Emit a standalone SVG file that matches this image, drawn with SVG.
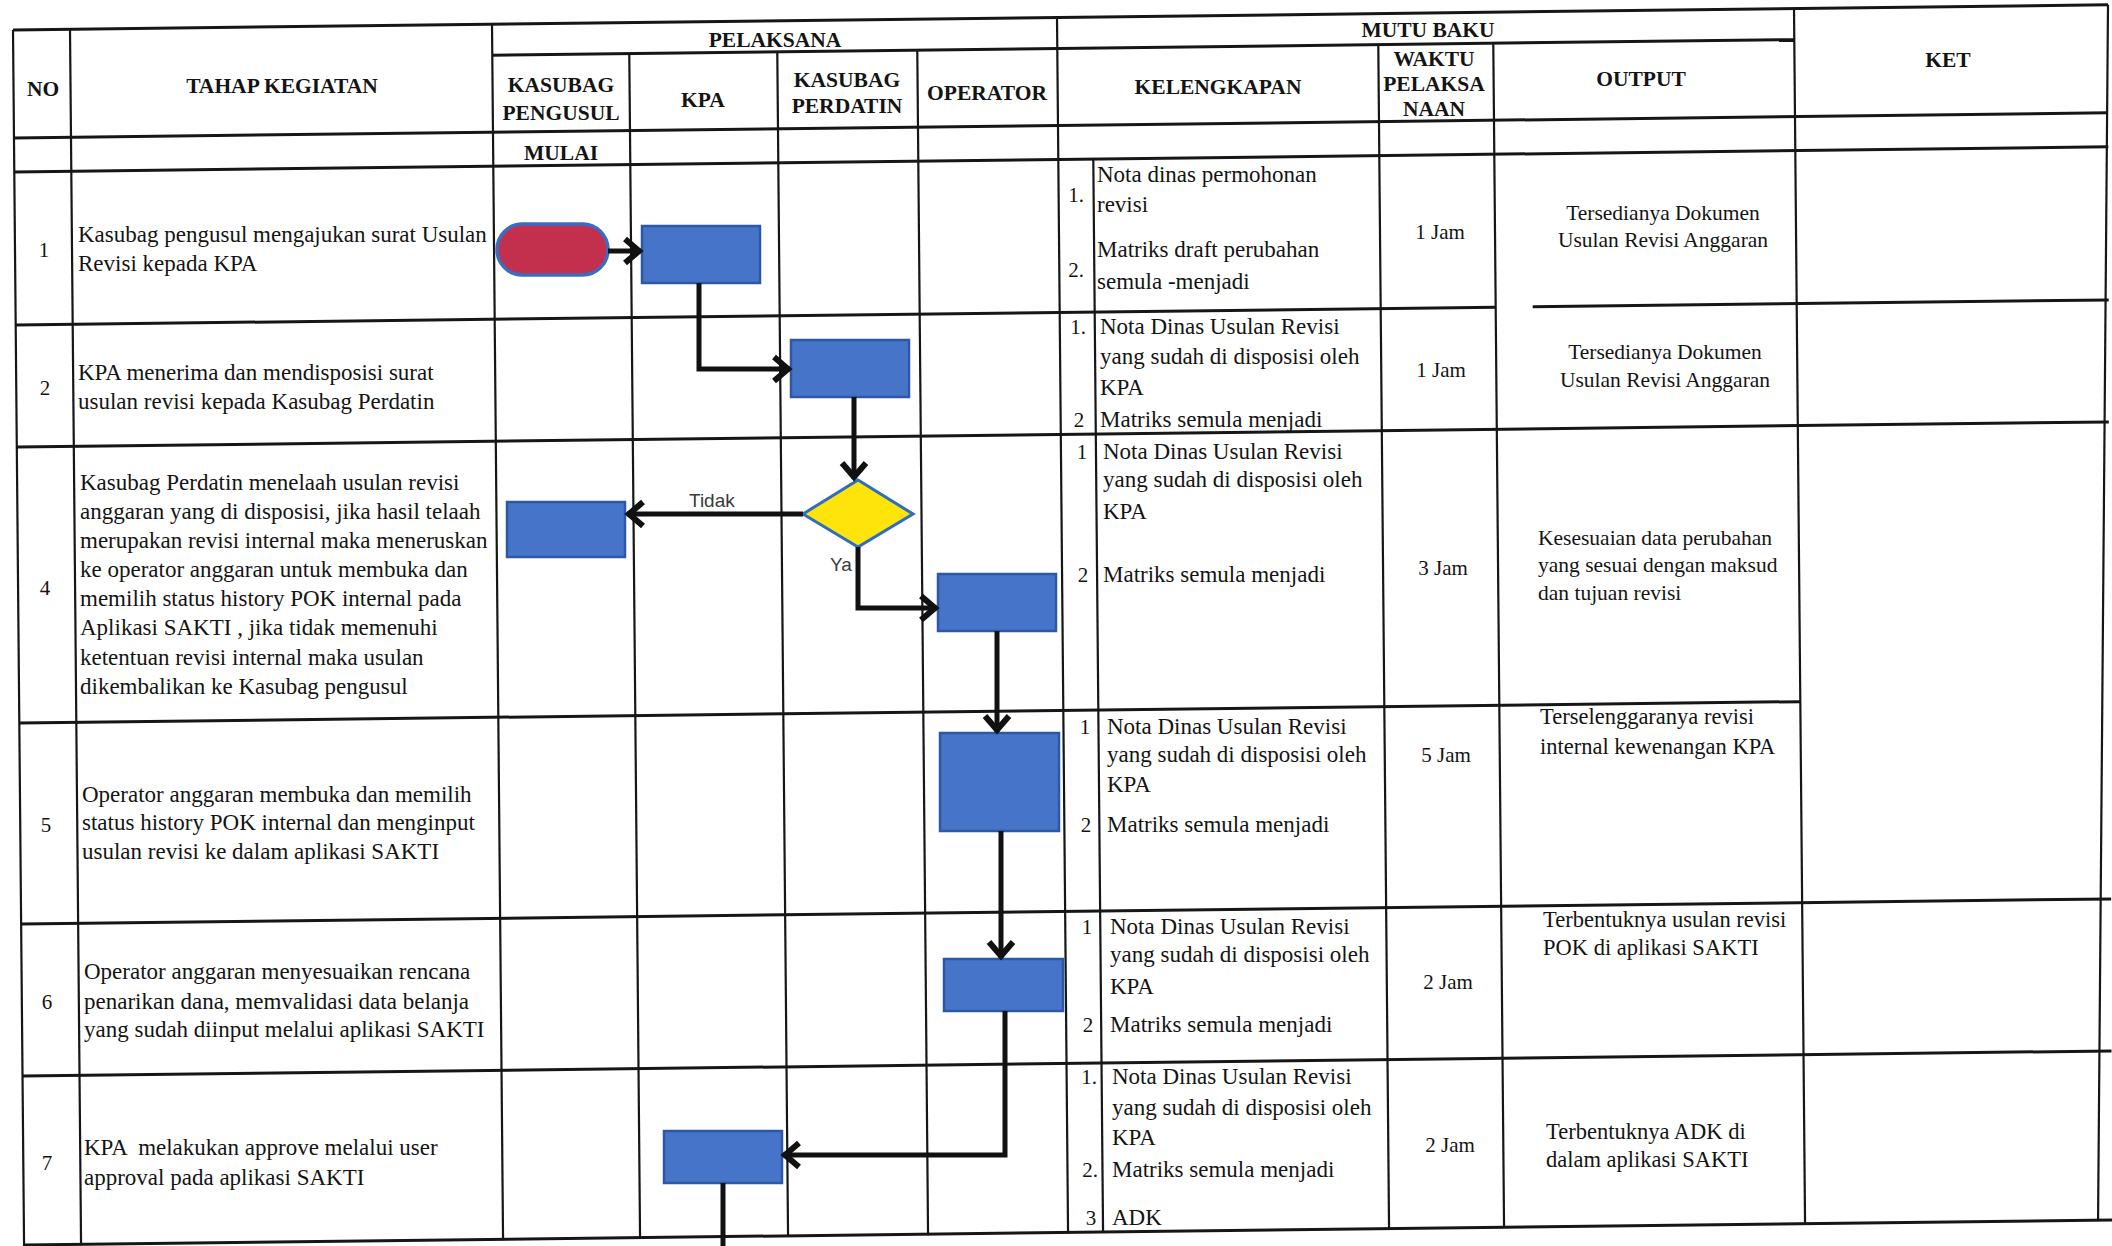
<svg xmlns="http://www.w3.org/2000/svg" width="2112" height="1246" viewBox="0 0 2112 1246">
<defs>
<style>
.hl{stroke:#161616;stroke-width:3;fill:none}
.vl{stroke:#161616;stroke-width:2.2;fill:none}
.h{font-family:"Liberation Serif","Times New Roman",serif;font-weight:bold;font-size:21.5px;text-anchor:middle;fill:#141414}
.t{font-family:"Liberation Serif","Times New Roman",serif;font-size:23px;fill:#141414}
.o{font-family:"Liberation Serif","Times New Roman",serif;font-size:21.5px;fill:#141414}
.o2{font-family:"Liberation Serif","Times New Roman",serif;font-size:22.5px;fill:#141414}
.c{text-anchor:middle}
.n{font-family:"Liberation Serif","Times New Roman",serif;font-size:21px;fill:#141414;text-anchor:middle}
.box{fill:#4574c8;stroke:#2c58a6;stroke-width:2.5}
.term{fill:#c3304d;stroke:#3c6cc2;stroke-width:3.5}
.dec{fill:#ffe40c;stroke:#2f6cc2;stroke-width:3}
.cn{stroke:#111;stroke-width:5;fill:none}
.lbl{font-family:"Liberation Sans",Arial,sans-serif;font-size:19px;fill:#3a3a3a}
</style>
<marker id="ah" markerUnits="userSpaceOnUse" viewBox="0 0 32 32" markerWidth="32" markerHeight="32" refX="28" refY="16" orient="auto">
<path d="M12,4 L26,16 L12,28" fill="none" stroke="#111" stroke-width="6"/>
</marker>
</defs>
<rect x="0" y="0" width="2112" height="1246" fill="#ffffff"/>

<g id="table" transform="matrix(1 -0.012 0.0091 1 -0.273 0.156)">
<line class="vl" x1="13" y1="30" x2="13" y2="1246"/>
<line class="vl" x1="70" y1="30" x2="70" y2="1246"/>
<line class="vl" x1="492" y1="30" x2="492" y2="1246"/>
<line class="vl" x1="629" y1="61" x2="629" y2="1246"/>
<line class="vl" x1="777" y1="61" x2="777" y2="1246"/>
<line class="vl" x1="917" y1="61" x2="917" y2="1246"/>
<line class="vl" x1="1057" y1="30" x2="1057" y2="1246"/>
<line class="vl" x1="1092" y1="172" x2="1092" y2="1245"/>
<line class="vl" x1="1378" y1="61" x2="1378" y2="1245"/>
<line class="vl" x1="1493" y1="61" x2="1493" y2="1245"/>
<line class="vl" x1="1794" y1="30" x2="1794" y2="1245"/>
<line class="vl" x1="2108" y1="30" x2="2087" y2="1245"/>
<line class="hl" x1="13" y1="30" x2="2108" y2="30"/>
<line class="hl" x1="492" y1="61" x2="1794" y2="61"/>
<line class="hl" x1="13" y1="138" x2="2107" y2="138"/>
<line class="hl" x1="13" y1="172" x2="2107" y2="172"/>
<line class="hl" x1="13" y1="325" x2="1493" y2="325"/>
<line class="hl" x1="1530" y1="325" x2="2106" y2="325"/>
<line class="hl" x1="13" y1="447" x2="2105" y2="447"/>
<line class="hl" x1="13" y1="723" x2="1794" y2="723"/>
<line class="hl" x1="13" y1="924" x2="2103" y2="924"/>
<line class="hl" x1="13" y1="1076" x2="2102" y2="1076"/>
<line class="hl" x1="13" y1="1245" x2="2101" y2="1245"/>
</g>

<g id="header">
<text class="h" x="43" y="96">NO</text>
<text class="h" x="282" y="93">TAHAP KEGIATAN</text>
<text class="h" x="775" y="47">PELAKSANA</text>
<text class="h" x="561" y="92">KASUBAG</text>
<text class="h" x="561" y="120">PENGUSUL</text>
<text class="h" x="703" y="107">KPA</text>
<text class="h" x="847" y="87">KASUBAG</text>
<text class="h" x="847" y="113">PERDATIN</text>
<text class="h" x="987" y="100">OPERATOR</text>
<text class="h" x="1428" y="37">MUTU BAKU</text>
<text class="h" x="1218" y="94">KELENGKAPAN</text>
<text class="h" x="1434" y="66">WAKTU</text>
<text class="h" x="1434" y="91">PELAKSA</text>
<text class="h" x="1434" y="116">NAAN</text>
<text class="h" x="1641" y="86">OUTPUT</text>
<text class="h" x="1948" y="67">KET</text>
<text class="h" x="561" y="160">MULAI</text>
</g>

<g id="tahap">
<text class="n" x="44" y="257">1</text>
<text class="t" x="78" y="242">Kasubag pengusul mengajukan surat Usulan</text>
<text class="t" x="78" y="271">Revisi kepada KPA</text>
<text class="n" x="45" y="395">2</text>
<text class="t" x="78" y="380">KPA menerima dan mendisposisi surat</text>
<text class="t" x="78" y="409">usulan revisi kepada Kasubag Perdatin</text>
<text class="n" x="45" y="595">4</text>
<text class="t" x="80" y="490">Kasubag Perdatin menelaah usulan revisi</text>
<text class="t" x="80" y="519">anggaran yang di disposisi, jika hasil telaah</text>
<text class="t" x="80" y="548">merupakan revisi internal maka meneruskan</text>
<text class="t" x="80" y="577">ke operator anggaran untuk membuka dan</text>
<text class="t" x="80" y="606">memilih status history POK internal pada</text>
<text class="t" x="80" y="635">Aplikasi SAKTI , jika tidak memenuhi</text>
<text class="t" x="80" y="665">ketentuan revisi internal maka usulan</text>
<text class="t" x="80" y="694">dikembalikan ke Kasubag pengusul</text>
<text class="n" x="46" y="832">5</text>
<text class="t" x="82" y="802">Operator anggaran membuka dan memilih</text>
<text class="t" x="82" y="830">status history POK internal dan menginput</text>
<text class="t" x="82" y="859">usulan revisi ke dalam aplikasi SAKTI</text>
<text class="n" x="47" y="1009">6</text>
<text class="t" x="84" y="979">Operator anggaran menyesuaikan rencana</text>
<text class="t" x="84" y="1009">penarikan dana, memvalidasi data belanja</text>
<text class="t" x="84" y="1037">yang sudah diinput melalui aplikasi SAKTI</text>
<text class="n" x="47" y="1170">7</text>
<text class="t" x="84" y="1155" xml:space="preserve">KPA  melakukan approve melalui user</text>
<text class="t" x="84" y="1185">approval pada aplikasi SAKTI</text>
</g>

<g id="kelengkapan">
<text class="n" x="1076" y="202">1.</text>
<text class="t" x="1097" y="182">Nota dinas permohonan</text>
<text class="t" x="1097" y="212">revisi</text>
<text class="t" x="1097" y="257">Matriks draft perubahan</text>
<text class="n" x="1076" y="277">2.</text>
<text class="t" x="1097" y="289">semula -menjadi</text>
<text class="n" x="1078" y="334">1.</text>
<text class="t" x="1100" y="334">Nota Dinas Usulan Revisi</text>
<text class="t" x="1100" y="364">yang sudah di disposisi oleh</text>
<text class="t" x="1100" y="395">KPA</text>
<text class="n" x="1079" y="427">2</text>
<text class="t" x="1100" y="427">Matriks semula menjadi</text>
<text class="n" x="1082" y="459">1</text>
<text class="t" x="1103" y="459">Nota Dinas Usulan Revisi</text>
<text class="t" x="1103" y="487">yang sudah di disposisi oleh</text>
<text class="t" x="1103" y="519">KPA</text>
<text class="n" x="1083" y="582">2</text>
<text class="t" x="1103" y="582">Matriks semula menjadi</text>
<text class="n" x="1085" y="734">1</text>
<text class="t" x="1107" y="734">Nota Dinas Usulan Revisi</text>
<text class="t" x="1107" y="762">yang sudah di disposisi oleh</text>
<text class="t" x="1107" y="792">KPA</text>
<text class="n" x="1086" y="832">2</text>
<text class="t" x="1107" y="832">Matriks semula menjadi</text>
<text class="n" x="1087" y="934">1</text>
<text class="t" x="1110" y="934">Nota Dinas Usulan Revisi</text>
<text class="t" x="1110" y="962">yang sudah di disposisi oleh</text>
<text class="t" x="1110" y="994">KPA</text>
<text class="n" x="1088" y="1032">2</text>
<text class="t" x="1110" y="1032">Matriks semula menjadi</text>
<text class="n" x="1089" y="1084">1.</text>
<text class="t" x="1112" y="1084">Nota Dinas Usulan Revisi</text>
<text class="t" x="1112" y="1115">yang sudah di disposisi oleh</text>
<text class="t" x="1112" y="1145">KPA</text>
<text class="n" x="1090" y="1177">2.</text>
<text class="t" x="1112" y="1177">Matriks semula menjadi</text>
<text class="n" x="1091" y="1225">3</text>
<text class="t" x="1112" y="1225">ADK</text>
</g>

<g id="waktu">
<text class="n" x="1440" y="239">1 Jam</text>
<text class="n" x="1441" y="377">1 Jam</text>
<text class="n" x="1443" y="575">3 Jam</text>
<text class="n" x="1446" y="762">5 Jam</text>
<text class="n" x="1448" y="989">2 Jam</text>
<text class="n" x="1450" y="1152">2 Jam</text>
</g>

<g id="output">
<text class="o c" x="1663" y="220">Tersedianya Dokumen</text>
<text class="o c" x="1663" y="247">Usulan Revisi Anggaran</text>
<text class="o c" x="1665" y="359">Tersedianya Dokumen</text>
<text class="o c" x="1665" y="387">Usulan Revisi Anggaran</text>
<text class="o" x="1538" y="545">Kesesuaian data perubahan</text>
<text class="o" x="1538" y="572">yang sesuai dengan maksud</text>
<text class="o" x="1538" y="600">dan tujuan revisi</text>
<text class="o2" x="1540" y="724">Terselenggaranya revisi</text>
<text class="o2" x="1540" y="754">internal kewenangan KPA</text>
<text class="o2" x="1543" y="927">Terbentuknya usulan revisi</text>
<text class="o2" x="1543" y="955">POK di aplikasi SAKTI</text>
<text class="o2" x="1546" y="1139">Terbentuknya ADK di</text>
<text class="o2" x="1546" y="1167">dalam aplikasi SAKTI</text>
</g>

<g id="node-mulai"><rect class="term" x="497" y="224" width="111" height="51" rx="25.5"/></g>
<g id="node-kpa-1"><rect class="box" x="642" y="226" width="118" height="57"/></g>
<g id="node-perdatin-2"><rect class="box" x="791" y="340" width="118" height="57"/></g>
<g id="node-decision"><polygon class="dec" points="803,514 858,480 913,514 858,547"/></g>
<g id="node-pengusul-4"><rect class="box" x="507" y="502" width="118" height="55"/></g>
<g id="node-operator-4"><rect class="box" x="938" y="574" width="118" height="57"/></g>
<g id="node-operator-5"><rect class="box" x="940" y="733" width="119" height="98"/></g>
<g id="node-operator-6"><rect class="box" x="944" y="959" width="119" height="52"/></g>
<g id="node-kpa-7"><rect class="box" x="664" y="1131" width="118" height="52"/></g>

<g id="labels">
<text class="lbl" x="689" y="507">Tidak</text>
<text class="lbl" x="830" y="571">Ya</text>
</g>

<g id="connectors">
<path class="cn" d="M608,251 L641,251" marker-end="url(#ah)"/>
<path class="cn" d="M699,283 L699,369 L790,369" marker-end="url(#ah)"/>
<path class="cn" d="M854,397 L854,479" marker-end="url(#ah)"/>
<path class="cn" d="M803,514 L627,514" marker-end="url(#ah)"/>
<path class="cn" d="M858,547 L858,608 L937,608" marker-end="url(#ah)"/>
<path class="cn" d="M997,631 L997,732" marker-end="url(#ah)"/>
<path class="cn" d="M1001,831 L1001,958" marker-end="url(#ah)"/>
<path class="cn" d="M1005,1011 L1005,1155 L783,1155" marker-end="url(#ah)"/>
<path class="cn" d="M723,1183 L723,1246"/>
</g>
</svg>
